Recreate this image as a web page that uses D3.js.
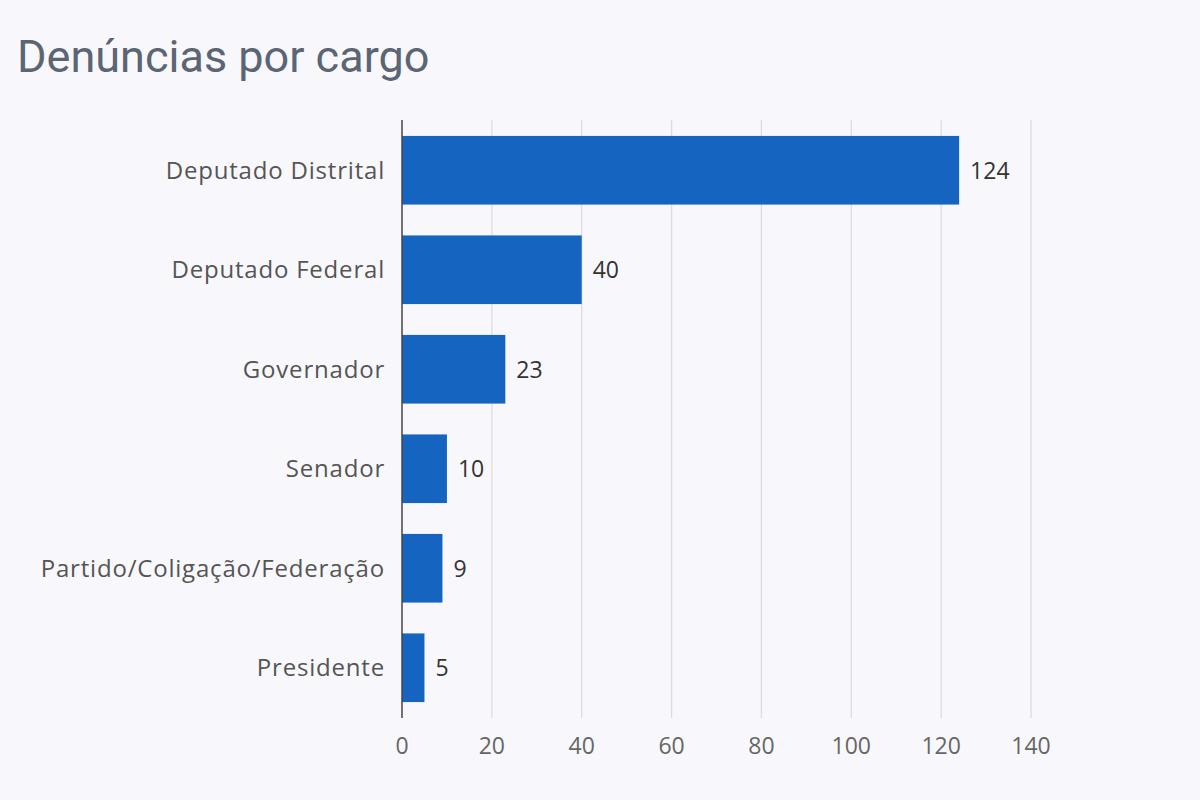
<!DOCTYPE html>
<html>
<head>
<meta charset="utf-8">
<script src="https://cdn.jsdelivr.net/npm/d3@7"></script>
<style>
  body { margin: 0; background: #f8f8fc; }
  svg { display: block; }
</style>
</head>
<body>
<script>
// values
var categories = ["Deputado Distrital", "Deputado Federal", "Governador", "Senador",
                  "Partido/Coligação/Federação", "Presidente"];
var counts = [124, 40, 23, 10, 9, 5];
var xTicks = [0, 20, 40, 60, 80, 100, 120, 140];

var options = {
  width: 1200,
  height: 800,
  left: 402,
  right: 1031,
  top: 120,
  bottom: 718
};

var svg = d3.select('body').append('svg')
  .attr('width', options.width)
  .attr('height', options.height);

svg.append('rect')
  .attr('width', options.width)
  .attr('height', options.height)
  .attr('fill', '#f8f8fc');

svg.append('text')
  .attr('x', 17)
  .attr('y', 72)
  .attr('font-family', 'Roboto, sans-serif')
  .attr('font-size', 45)
  .attr('fill', '#5b6573')
  .text('Denúncias por cargo');

var x = d3.scaleLinear().domain([0, 140]).range([options.left, options.right]);
var y = d3.scaleBand().domain(categories)
  .range([options.top, options.bottom])
  .paddingInner(0.31).paddingOuter(0.16);

var rows = categories.map(function(c, i) { return {name: c, value: counts[i]}; });

// gridlines
svg.selectAll('line.grid')
  .data(xTicks.slice(1))
  .enter().append('line')
  .attr('class', 'grid')
  .attr('x1', function(d) { return x(d); })
  .attr('x2', function(d) { return x(d); })
  .attr('y1', options.top)
  .attr('y2', options.bottom)
  .attr('stroke', '#dcdce0')
  .attr('stroke-width', 1.3);

// tick labels
svg.selectAll('text.tick')
  .data(xTicks)
  .enter().append('text')
  .attr('class', 'tick')
  .attr('x', function(d) { return x(d); })
  .attr('y', 754)
  .attr('text-anchor', 'middle')
  .attr('font-family', '"Open Sans", sans-serif')
  .attr('font-size', 23)
  .attr('fill', '#666')
  .text(function(d) { return d; });

svg.selectAll('rect.bar')
  .data(rows)
  .enter().append('rect')
  .attr('class', 'bar')
  .attr('x', x(0))
  .attr('y', function(d) { return y(d.name); })
  .attr('width', function(d) { return x(d.value) - x(0); })
  .attr('height', y.bandwidth())
  .attr('fill', '#1565c0');

svg.selectAll('text.val')
  .data(rows)
  .enter().append('text')
  .attr('class', 'val')
  .attr('x', function(d) { return x(d.value) + 11; })
  .attr('y', function(d) { return y(d.name) + y.bandwidth() / 2; })
  .attr('dy', '0.36em')
  .attr('font-family', '"Open Sans", sans-serif')
  .attr('font-size', 23)
  .attr('fill', '#333')
  .text(function(d) { return d.value; });

svg.selectAll('text.cat')
  .data(rows)
  .enter().append('text')
  .attr('class', 'cat')
  .attr('x', options.left - 17)
  .attr('y', function(d) { return y(d.name) + y.bandwidth() / 2; })
  .attr('dy', '0.36em')
  .attr('text-anchor', 'end')
  .attr('font-family', '"Open Sans", sans-serif')
  .attr('font-size', 24)
  .attr('letter-spacing', 0.8)
  .attr('fill', '#555')
  .text(function(d) { return d.name; });

// baseline axis
svg.append('line')
  .attr('x1', x(0)).attr('x2', x(0))
  .attr('y1', options.top).attr('y2', options.bottom)
  .attr('stroke', '#444')
  .attr('stroke-width', 1.5);
</script>
</body>
</html>
